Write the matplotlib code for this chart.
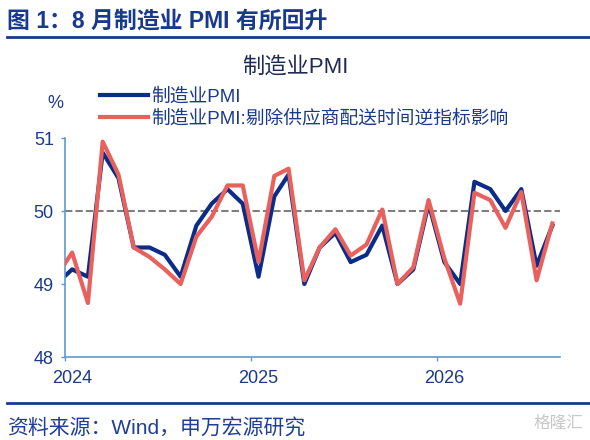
import matplotlib
matplotlib.use('Agg')
import matplotlib.pyplot as plt
import matplotlib.dates as mdates
import matplotlib.transforms as mtransforms
from matplotlib.lines import Line2D
import pandas as pd

plt.rcParams['font.family'] = ['Liberation Sans', 'Noto Sans CJK SC', 'DejaVu Sans']
plt.rcParams['axes.unicode_minus'] = False

# 月度数据 2023-12 ~ 2026-08
months = pd.date_range('2023-12-01', periods=33, freq='MS') + pd.Timedelta(days=14)
pmi = [49.0,
       49.2, 49.1, 50.8, 50.45, 49.5, 49.5, 49.4, 49.1, 49.8, 50.1, 50.3, 50.1,
       49.1, 50.2, 50.5, 49.0, 49.5, 49.7, 49.3, 49.4, 49.8, 49.0, 49.2, 50.1,
       49.3, 49.0, 50.4, 50.3, 50.0, 50.3, 49.25, 49.8]
pmi_adj = [49.1,
           49.43, 48.74, 50.95, 50.5, 49.5, 49.37, 49.2, 49.0, 49.65, 49.92, 50.35, 50.35,
           49.3, 50.48, 50.58, 49.05, 49.5, 49.75, 49.39, 49.54, 50.02, 49.0, 49.23, 50.15,
           49.35, 48.73, 50.25, 50.15, 49.77, 50.26, 49.05, 49.83]
labels = ['制造业PMI', '制造业PMI:剔除供应商配送时间逆指标影响']

navy = '#0B2C88'
red = '#E8615C'
axis_blue = '#5B9BD5'
text_blue = '#1A3A8A'

fig = plt.figure(figsize=(5.9, 4.4), dpi=100)
ax = fig.add_axes([65/590, 1-357/440, 495/590, 219/440])

ax.axhline(50, color='#7F7F7F', lw=1.5, dashes=(3.5, 1.5), zorder=1)
ax.plot(months, pmi, color=navy, lw=3, label=labels[0], zorder=2)
ax.plot(months, pmi_adj, color=red, lw=3, label=labels[1], zorder=3)

ax.set_xlim(pd.Timestamp('2024-01-01'), pd.Timestamp('2026-08-30'))
ax.set_ylim(48, 51)
ax.set_yticks([48, 49, 50, 51])
ax.xaxis.set_major_locator(mdates.YearLocator())
ax.xaxis.set_major_formatter(mdates.DateFormatter('%Y'))

for s in ['top', 'right']:
    ax.spines[s].set_visible(False)
for s in ['left', 'bottom']:
    ax.spines[s].set_color(axis_blue)
    ax.spines[s].set_linewidth(1.2)
ax.tick_params(axis='both', direction='out', length=3, width=1, color=axis_blue,
               labelsize=13, labelcolor=text_blue)
ax.tick_params(axis='x', pad=6)
ax.tick_params(axis='y', pad=5)
shift = mtransforms.ScaledTranslation(7/100, 0, fig.dpi_scale_trans)
for lab in ax.get_xticklabels():
    lab.set_transform(lab.get_transform() + shift)

leg = ax.legend(loc='upper left', bbox_to_anchor=(100/590, 1-88/440),
                bbox_transform=fig.transFigure, frameon=False, fontsize=13.5,
                handlelength=2.55, handletextpad=0.2, labelspacing=0.25,
                borderpad=0, borderaxespad=0)
for t in leg.get_texts():
    t.set_color(text_blue)

fig.text(55/590, 1-103/440, '%', fontsize=13, color=text_blue, ha='center', va='center')
fig.text(295/590, 1-67/440, '制造业PMI', fontsize=16, color='#1F2A55', ha='center', va='center')

fig.text(7/590, 1-21/440, '图 1：8 月制造业 PMI 有所回升', fontsize=16.5,
         fontweight='bold', color='#173A8C', ha='left', va='center')
fig.add_artist(Line2D([7/590, 1], [1-37.5/440, 1-37.5/440], color='#173A8C', lw=2))
fig.add_artist(Line2D([7/590, 1], [1-403/440, 1-403/440], color='#173A8C', lw=2))
fig.text(7/590, 1-428/440, '资料来源：Wind，申万宏源研究', fontsize=15,
         color='#1F3F96', ha='left', va='center')
fig.text(583/590, 1-423/440, '格隆汇', fontsize=12, color='#C8C8C8',
         ha='right', va='center')

fig.savefig('out.png', dpi=100)
